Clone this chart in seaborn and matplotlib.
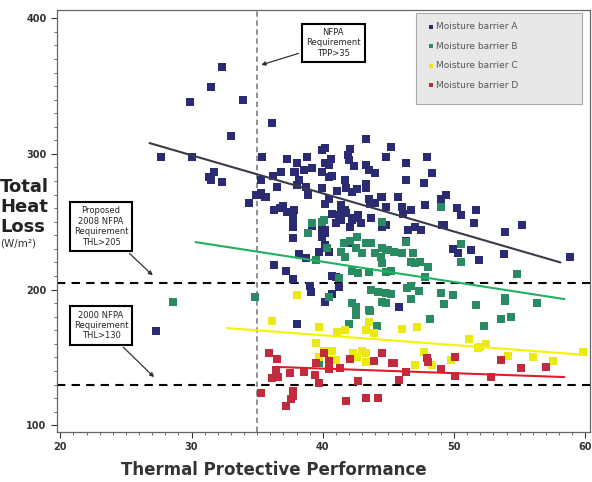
import matplotlib
matplotlib.use("Agg")
import matplotlib.pyplot as plt
from matplotlib.patches import Rectangle
from matplotlib.ticker import MultipleLocator
import pandas as pd
import seaborn as sns

# Datos (TPP, THL) por barrera de humedad
a_x = [32.35, 31.5, 29.9, 33.9, 36.1, 33.0, 27.7, 30.0, 35.4, 37.3, 38.0, 31.7, 31.3, 31.5, 32.3,
       35.3, 36.2, 36.8, 37.9, 36.5, 35.0, 35.7, 38.0,
       43.3, 45.2, 44.8, 46.3, 47.9, 48.3, 46.3, 47.7, 45.7, 47.8, 38.8, 39.9, 40.2, 42.1, 41.9, 42.0,
       40.6, 40.2, 40.5, 37.8, 38.6, 39.2, 39.9, 42.4, 43.3, 43.5, 44.0, 40.5, 40.7, 41.7, 38.2, 38.7,
       38.9, 43.3, 43.3, 39.9, 41.1, 41.8, 42.2, 42.6, 40.5, 40.2, 43.5, 43.6, 44.4, 44.8, 41.4, 41.4,
       41.2, 41.8, 42.2, 42.7, 42.1, 42.9, 46.0, 46.1, 46.7, 46.5, 47.0, 47.5, 37.8, 37.7, 37.7, 37.7,
       39.2, 39.9, 39.9, 40.2, 44.5, 44.8, 49.0, 49.2, 46.3, 42.0,
       49.4, 49.0, 50.2, 50.5, 51.7, 51.5, 49.1, 53.9, 55.2, 49.9, 50.3, 51.3, 51.9, 53.8, 58.8,
       34.4, 34.9, 35.3, 35.6, 36.3, 36.7, 37.0, 37.3, 37.7, 37.7, 40.7, 39.9, 40.2, 41.0, 41.4, 41.7,
       42.2, 42.7, 44.0, 44.5, 43.7, 38.2, 38.7, 39.7, 40.2, 40.5, 36.3, 37.2, 37.7, 39.0, 39.1, 40.2,
       41.2, 40.7, 40.7, 41.0, 45.8, 38.0, 27.3]
a_y = [364, 349, 338, 340, 323, 313, 297.6, 298, 298, 296, 293, 287, 283, 281, 279,
       281, 284, 287, 286.5, 275.5, 269.6, 268, 277,
       311, 305, 298, 293, 297.6, 286, 280.6, 278.4, 268, 262, 298, 302.7, 304, 303.5, 299, 295.4,
       296, 293, 291.7, 287, 288, 289.5, 287, 291, 291.7, 288, 286, 283, 284, 281, 281, 275.5,
       269.6, 278, 274.7, 274.7, 273, 274.7, 272, 274, 267, 263, 267, 263, 268, 261, 262, 258.5,
       255, 256.3, 251, 252.6, 246, 249, 260.7, 256, 258.5, 243.8, 246, 243.8, 258.5, 253.4, 246, 238,
       246.7, 245, 238.6, 242, 246, 247.5, 267, 247.5, 236, 234,
       270, 266, 260, 255, 259, 249, 247.5, 242.3, 247.5, 230, 227, 229, 221.7, 226, 224,
       264, 269.6, 271, 268, 258.5, 260, 261.5, 257, 255, 250.4, 256, 249, 244, 249, 251, 258.5,
       252.6, 255, 264, 268, 253, 226, 223, 227.6, 232.7, 227.6, 218, 213.6, 207.7, 203, 198, 190.7,
       201.8, 196.6, 210, 209, 187, 174.5, 169.3]

b_x = [49.0, 50.5, 50.5, 54.8, 49.0, 49.9, 53.9, 34.8, 38.9, 39.2, 39.9, 40.1, 39.5, 40.3, 41.6,
       42.1, 42.6, 41.4, 41.7, 42.5, 43.0, 43.3, 43.7, 44.0, 44.4, 44.8, 44.5, 43.5, 42.7, 42.2, 41.2,
       40.5, 42.2, 42.5, 43.5, 43.7, 44.2, 44.8, 44.5, 44.8,
       49.2, 51.7, 53.9, 56.3, 53.6, 54.3, 52.3, 48.2, 44.5, 45.0, 45.4, 46.3, 46.0, 46.7, 47.0, 47.4,
       46.9, 48.0, 44.8, 45.2, 47.8, 45.2, 46.4, 46.7, 47.3, 46.7,
       42.5, 42.0, 43.6, 44.1, 39.7, 28.6, 44.5]
b_y = [260.7, 233.5, 220, 211.3, 197.4, 196, 193.7, 194.4, 242, 249, 249.7, 251, 221.7, 231, 234,
       236, 238.6, 227.6, 224, 231, 226.8, 234, 234, 226.8, 224, 229, 219.5, 212.8, 212, 214, 208.4,
       194.4, 190, 187, 185, 199.6, 198, 197.4, 190.7, 190,
       189, 188.5, 191.5, 190, 178, 179.7, 173, 178, 230.5, 229, 228, 235, 226.8, 220, 219.5, 220,
       226.8, 216.5, 212.8, 214, 209, 197, 201, 203, 199, 193,
       181, 174.5, 184, 173, 145.8, 190.7, 249.7]

c_x = [38.0, 46.0, 47.2, 51.1, 51.8, 52.4, 52.0, 47.7, 47.0, 48.3, 49.8, 54.1, 36.1, 39.7, 41.1,
       41.7, 43.5, 43.3, 43.9, 39.5, 40.1, 40.7, 40.5, 41.0, 39.7, 43.0, 43.3, 43.3, 42.6, 42.3,
       56.0, 57.5, 59.8]
c_y = [196, 171, 172.3, 163.8, 157, 160, 157.6, 154, 144.3, 144.3, 148, 151, 176.7, 172.3, 168.6,
       170, 176, 170, 168, 160.5, 155, 155, 148, 148, 150, 155, 153, 146.5, 150, 153,
       150, 147, 154]

d_x = [45.4, 46.3, 47.9, 48.0, 50.1, 49.0, 50.1, 53.6, 55.1, 52.8, 35.9, 36.5, 36.4, 36.1, 36.6,
       35.3, 37.5, 38.6, 39.4, 39.7, 39.5, 40.1, 40.5, 40.5, 41.3, 37.7, 37.7, 37.6, 37.2, 41.8,
       42.1, 42.7, 43.3, 44.2, 43.9, 44.5, 45.3, 45.8, 57.0]
d_y = [145.8, 139, 149.5, 146.5, 150, 141.3, 136, 148, 142, 135.4, 153, 148.7, 140.6, 134.7, 135.4,
       123.7, 138.4, 139, 137, 131, 145.8, 153, 147.2, 141.3, 142, 125, 121.4, 119.2, 114, 117.8,
       148.7, 132.5, 120, 120, 147.2, 153, 145.8, 133.2, 143]

# Rectas de tendencia (extremos)
fit_x = {"A": [26.8, 58.1], "B": [30.3, 58.4], "C": [32.7, 59.8], "D": [36.4, 58.4]}
fit_y = {"A": [308, 220], "B": [235, 193], "C": [171.6, 152], "D": [143, 135.5]}

barreras = ["A", "B", "C", "D"]
colores_pts = {"A": "#2b2b74", "B": "#2a8a62", "C": "#eaea10", "D": "#c22a3e"}
colores_lin = {"A": "#3a3a48", "B": "#1fb060", "C": "#f4f400", "D": "#d8202e"}

datos = pd.concat([
    pd.DataFrame({"TPP": a_x, "THL": a_y, "barrera": "A"}),
    pd.DataFrame({"TPP": b_x, "THL": b_y, "barrera": "B"}),
    pd.DataFrame({"TPP": c_x, "THL": c_y, "barrera": "C"}),
    pd.DataFrame({"TPP": d_x, "THL": d_y, "barrera": "D"}),
], ignore_index=True)

sns.set_style("ticks")
plt.rcParams["font.family"] = ["DejaVu Sans"]

fig = plt.figure(figsize=(5.92, 4.82), dpi=100)
ax = fig.add_axes([0.0963, 0.1037, 0.9003, 0.8753])

for b in barreras:
    sns.scatterplot(data=datos[datos["barrera"] == b], x="TPP", y="THL", color=colores_pts[b],
                    marker="s", s=26, linewidth=0, label="Moisture barrier " + b, ax=ax, zorder=3)
for b in barreras:
    sns.lineplot(x=fit_x[b], y=fit_y[b], color=colores_lin[b], lw=1.5, legend=False, ax=ax, zorder=4)

# Requisitos NFPA
ax.axvline(35, color="#888888", ls=(0, (3, 2)), lw=1.3, zorder=2)
ax.axhline(205, color="black", ls=(0, (4, 3)), lw=1.5, zorder=2)
ax.axhline(130, color="black", ls=(0, (4, 3)), lw=1.5, zorder=2)

caja = dict(boxstyle="square,pad=0.5", fc="white", ec="black", lw=1.5)
flecha = dict(arrowstyle="-|>", color="#333333", lw=0.9, mutation_scale=6)
ax.annotate("NFPA\nRequirement\nTPP>35", xy=(35.1, 365), xytext=(40.8, 382), fontsize=6,
            ha="center", va="center", bbox=caja, arrowprops=flecha, zorder=5)
ax.annotate("Proposed\n2008 NFPA\nRequirement\nTHL>205", xy=(27.2, 209), xytext=(23.1, 246.5),
            fontsize=6, ha="center", va="center", bbox=caja, arrowprops=flecha, zorder=5)
ax.annotate("2000 NFPA\nRequirement\nTHL>130", xy=(27.3, 134), xytext=(23.1, 173.5), fontsize=6,
            ha="center", va="center", bbox=caja, arrowprops=flecha, zorder=5)

ax.set_xlim(19.75, 60.35)
ax.set_ylim(95, 406)
ax.set_xticks([20, 30, 40, 50, 60])
ax.set_yticks([100, 200, 300, 400])
ax.xaxis.set_minor_locator(MultipleLocator(1))
ax.yaxis.set_minor_locator(MultipleLocator(10))
ax.tick_params(which="major", length=4, width=0.8, labelsize=7, colors="#333333")
ax.tick_params(which="minor", length=2, width=0.6, colors="#555555")
for lab in ax.get_xticklabels() + ax.get_yticklabels():
    lab.set_fontweight("bold")
for sp in ax.spines.values():
    sp.set_color("#666666")
    sp.set_linewidth(0.9)
ax.set_xlabel("")
ax.set_ylabel("")

# Leyenda con fondo gris
ax.add_patch(Rectangle((0.674, 0.777), 0.311, 0.216, transform=ax.transAxes, fc="#e8e8e8",
                       ec="#aaaaaa", lw=0.8, zorder=5))
leg = ax.legend(loc="upper left", bbox_to_anchor=(0.68, 0.99), frameon=False, fontsize=6.5,
                labelspacing=1.15, handletextpad=0.1, handlelength=0.8, markerscale=0.55)
leg.set_zorder(6)
for t in leg.get_texts():
    t.set_color("#555555")

fig.text(0.0, 0.612, "Total", fontsize=13, fontweight="bold", va="center", color="#222222")
fig.text(0.0, 0.571, "Heat", fontsize=13, fontweight="bold", va="center", color="#222222")
fig.text(0.0, 0.530, "Loss", fontsize=13, fontweight="bold", va="center", color="#222222")
fig.text(0.0, 0.495, "(W/m²)", fontsize=7.5, va="center", color="#333333")
fig.text(0.462, 0.025, "Thermal Protective Performance", fontsize=12, fontweight="bold",
         ha="center", va="center", color="#333333")

fig.savefig("out.png", dpi=100)
